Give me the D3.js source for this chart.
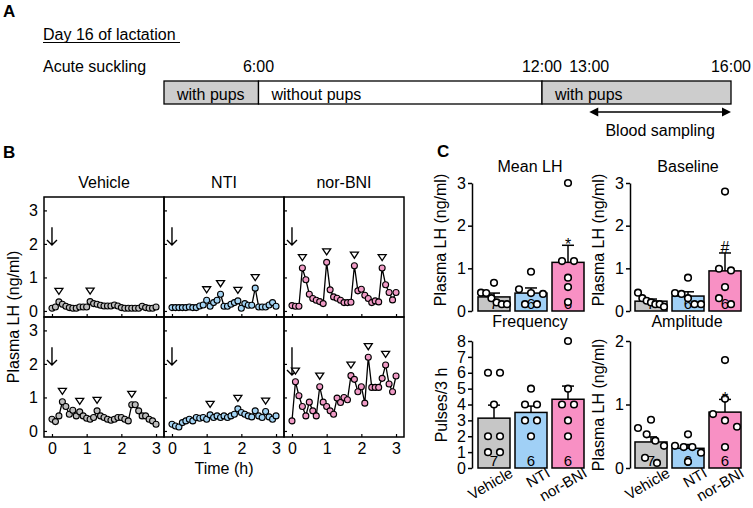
<!DOCTYPE html>
<html><head><meta charset="utf-8">
<script src="https://cdn.jsdelivr.net/npm/d3@7"></script>
<style>
body{margin:0;background:#fff;}
svg text{font-family:"Liberation Sans",Arial,sans-serif;fill:#000;}
</style></head>
<body><svg id="c" width="753" height="508"></svg>
<script>
// ---------------- DATA ----------------
const groups = ["Vehicle", "NTI", "nor-BNI"];

// Panel A schedule (hours of day)
const scheduleBounds = [4, 6, 12, 16];
const scheduleLabels = ["with pups", "without pups", "with pups"];
const scheduleWithPups = [true, false, true];
const scheduleTickHours = [6, 12, 13, 16];
const scheduleTickLabels = ["6:00", "12:00", "13:00", "16:00"];
const samplingWindow = [13, 16];

// Panel B: sampling times (h) and plasma LH (ng/ml), two representative rats per group
const sampleTimes = [0,0.1,0.2,0.3,0.4,0.5,0.6,0.7,0.8,0.9,1.0,1.1,1.2,1.3,1.4,1.5,1.6,1.7,1.8,1.9,2.0,2.1,2.2,2.3,2.4,2.5,2.6,2.7,2.8,2.9,3.0];
const lhVehicleTop = [0.08,0.12,0.27,0.2,0.14,0.1,0.08,0.08,0.12,0.12,0.12,0.28,0.22,0.2,0.17,0.15,0.15,0.15,0.18,0.15,0.1,0.08,0.08,0.08,0.08,0.08,0.14,0.1,0.08,0.08,0.12];
const lhNTITop     = [0.1,0.1,0.1,0.1,0.1,0.12,0.1,0.1,0.15,0.18,0.32,0.14,0.25,0.32,0.5,0.14,0.14,0.2,0.25,0.3,0.08,0.22,0.17,0.17,0.68,0.12,0.12,0.12,0.18,0.25,0.14];
const lhNorBNITop  = [0.16,0.14,0.14,1.28,0.93,0.5,0.37,0.32,0.28,0.22,1.45,0.63,0.42,0.38,0.32,0.25,0.25,0.26,1.35,0.6,0.65,0.47,0.37,0.25,0.3,0.27,1.28,0.78,0.55,0.33,0.55];
const lhVehicleBot = [0.35,0.28,0.45,0.87,0.73,0.5,0.62,0.45,0.57,0.45,0.38,0.35,0.4,0.6,0.45,0.4,0.35,0.32,0.35,0.4,0.4,0.35,0.3,0.78,0.78,0.6,0.45,0.45,0.35,0.3,0.2];
const lhNTIBot     = [0.2,0.15,0.12,0.25,0.3,0.35,0.3,0.4,0.38,0.4,0.35,0.48,0.4,0.45,0.4,0.45,0.4,0.45,0.5,0.66,0.55,0.5,0.45,0.42,0.6,0.45,0.4,0.58,0.42,0.35,0.45];
const lhNorBNIBot  = [0.3,1.47,1.05,0.73,0.45,0.86,0.6,0.45,1.32,0.86,0.73,0.6,0.5,0.98,0.85,1.0,0.93,1.65,1.54,1.17,1.32,0.83,2.2,1.3,1.3,1.3,1.57,1.97,1.4,1.17,1.64];
// indices of detected LH pulses (open triangles)
const pulsesVehicleTop = [2, 11];
const pulsesNTITop     = [10, 14, 19, 24];
const pulsesNorBNITop  = [3, 10, 18, 26];
const pulsesVehicleBot = [3, 8, 13, 23];
const pulsesNTIBot     = [11, 19, 27];
const pulsesNorBNIBot  = [1, 8, 17, 22, 27];
const yTicksB = [0, 1, 2, 3];
const xTicksB = [0, 1, 2, 3];

// Panel C: means, SEM, individual values
const nPerGroup = [7, 6, 6];
const meanLHMean = [0.33, 0.42, 1.14];
const meanLHSem  = [0.09, 0.12, 0.40];
const meanLHDots = [[0.66,0.43,0.42,0.3,0.2,0.16,0.16],[0.92,0.51,0.42,0.4,0.16,0.16],[3.0,1.17,1.17,0.78,0.56,0.21]];
const meanLHSig  = ["", "", "*"];
const baselineMean = [0.23, 0.35, 0.94];
const baselineSem  = [0.05, 0.10, 0.42];
const baselineDots = [[0.43,0.3,0.24,0.2,0.16,0.16,0.1],[0.78,0.42,0.4,0.3,0.16,0.16],[2.8,0.99,0.95,0.56,0.3,0.16]];
const baselineSig  = ["", "", "#"];
const freqMean = [3.14, 3.5, 4.33];
const freqSem  = [0.82, 0.40, 0.83];
const freqDots = [[6,6,4,2,2,1,1],[5,4,4,3,3,2],[8,5,4,4,3,2]];
const freqSig  = ["", "", ""];
const ampMean = [0.41, 0.31, 0.88];
const ampSem  = [0.08, 0.06, 0.20];
const ampDots = [[0.76,0.63,0.53,0.43,0.35,0.16,0.08],[0.53,0.35,0.33,0.33,0.24,0.1],[1.7,1.09,0.85,0.75,0.65,0.33]];
const ampSig  = ["", "", "*"];

// ---------------- DRAW ----------------
const svg = d3.select("#c");
const dotFill = ["#bdbdbd", "#a3d3f3", "#f09bc6"];
const barFill = ["#c6c6c6", "#a0d0f6", "#f890c4"];

function label(g, x, y, s, size, anchor, weight) {
  return g.append("text").attr("x", x).attr("y", y).attr("font-size", size)
    .attr("text-anchor", anchor || "start").attr("font-weight", weight || "normal").text(s);
}

// ===== Panel A =====
label(svg, 3, 17, "A", 17, "start", "bold");
label(svg, 43, 40, "Day 16 of lactation", 16);
svg.append("line").attr("x1", 43).attr("x2", 180).attr("y1", 42.5).attr("y2", 42.5).attr("stroke", "#000").attr("stroke-width", 1.1);
label(svg, 43, 72, "Acute suckling", 16);
const xA = d3.scaleLinear().domain([4, 16]).range([164, 731]);
scheduleLabels.forEach((s, i) => {
  const x0 = xA(scheduleBounds[i]), x1 = xA(scheduleBounds[i + 1]);
  svg.append("rect").attr("x", x0).attr("y", 81).attr("width", x1 - x0).attr("height", 23)
    .attr("fill", scheduleWithPups[i] ? "#cdcdcd" : "#fff").attr("stroke", "#000").attr("stroke-width", 1.3);
  label(svg, x0 + 13, 100, s, 16);
});
scheduleTickHours.forEach((h, i) => label(svg, xA(h), 72, scheduleTickLabels[i], 16, "middle"));
{
  const ax0 = xA(samplingWindow[0]), ax1 = xA(samplingWindow[1]), ay = 112;
  svg.append("line").attr("x1", ax0 + 4).attr("x2", ax1 - 4).attr("y1", ay).attr("y2", ay).attr("stroke", "#000").attr("stroke-width", 1.5);
  svg.append("path").attr("d", `M${ax0},${ay}l9,-4.5v9z`).attr("fill", "#000");
  svg.append("path").attr("d", `M${ax1},${ay}l-9,-4.5v9z`).attr("fill", "#000");
  label(svg, (ax0 + ax1) / 2, 136, "Blood sampling", 16, "middle");
}

// ===== Panel B =====
label(svg, 3, 158, "B", 17, "start", "bold");
const rowsB = [[lhVehicleTop, lhNTITop, lhNorBNITop], [lhVehicleBot, lhNTIBot, lhNorBNIBot]];
const pulsesB = [[pulsesVehicleTop, pulsesNTITop, pulsesNorBNITop], [pulsesVehicleBot, pulsesNTIBot, pulsesNorBNIBot]];
const PW = 120, PH = 120, BL = 44, BT = 197;
const xB = d3.scaleLinear().domain([-0.23, 3.23]).range([0, PW]);
const yB = d3.scaleLinear().domain([-0.18, 3.4]).range([PH, 0]);
groups.forEach((gname, c) => label(svg, BL + c * PW + PW / 2, 188, gname, 16, "middle"));
rowsB.forEach((row, r) => {
  row.forEach((vals, c) => {
    const g = svg.append("g").attr("transform", `translate(${BL + c * PW},${BT + r * PH})`);
    const ya = g.append("g").call(d3.axisLeft(yB).tickValues(yTicksB).tickSize(-3).tickSizeOuter(0).tickPadding(6)
      .tickFormat(c === 0 ? d3.format("d") : () => ""));
    ya.select(".domain").remove();
    ya.selectAll("text").attr("font-size", 16).attr("font-family", null);
    ya.selectAll("line").attr("stroke-width", 1.2);
    const xa = g.append("g").attr("transform", `translate(0,${PH})`)
      .call(d3.axisBottom(xB).tickValues(xTicksB).tickSize(-3).tickSizeOuter(0).tickPadding(6)
      .tickFormat(r === 1 ? d3.format("d") : () => ""));
    xa.select(".domain").remove();
    xa.selectAll("text").attr("font-size", 16).attr("font-family", null);
    xa.selectAll("line").attr("stroke-width", 1.2);
    g.append("rect").attr("width", PW).attr("height", PH).attr("fill", "none").attr("stroke", "#000").attr("stroke-width", 1.5);
    // arrow at time 0
    const arrowBottom = (r === 1 && c === 2) ? 1.67 : 1.97;
    const axp = xB(0), at = yB(2.5), ab = yB(arrowBottom);
    g.append("path").attr("d", `M${axp},${at}V${ab}M${axp - 5},${ab - 5}L${axp},${ab}L${axp + 5},${ab - 5}`)
      .attr("fill", "none").attr("stroke", "#000").attr("stroke-width", 1.4);
    const line = d3.line().x((d, i) => xB(sampleTimes[i])).y(d => yB(d));
    g.append("path").datum(vals).attr("d", line).attr("fill", "none").attr("stroke", "#000").attr("stroke-width", 1.3);
    g.selectAll("circle.pt").data(vals).join("circle").attr("class", "pt")
      .attr("cx", (d, i) => xB(sampleTimes[i])).attr("cy", d => yB(d)).attr("r", 3)
      .attr("fill", dotFill[c]).attr("stroke", "#000").attr("stroke-width", 1.1);
    g.selectAll("path.tri").data(pulsesB[r][c]).join("path").attr("class", "tri")
      .attr("transform", i => `translate(${xB(sampleTimes[i])},${yB(vals[i]) - 10.5})`)
      .attr("d", "M-4,-3L4,-3L0,3Z").attr("fill", "#fff").attr("stroke", "#000").attr("stroke-width", 1.3);
  });
});
label(svg, BL + 1.5 * PW, 474, "Time (h)", 16, "middle");
svg.append("text").attr("transform", `translate(18.5,${BT + PH})rotate(-90)`).attr("text-anchor", "middle")
  .attr("font-size", 16).text("Plasma LH (ng/ml)");

// ===== Panel C =====
label(svg, 437, 157, "C", 17, "start", "bold");

function swarm(values, y, cx) {
  const pts = values.map(v => ({ v, y: y(v) })).sort((a, b) => a.y - b.y);
  const clusters = []; let cur = [];
  pts.forEach(p => {
    if (cur.length && p.y - cur[cur.length - 1].y > 7.5) { clusters.push(cur); cur = []; }
    cur.push(p);
  });
  if (cur.length) clusters.push(cur);
  clusters.forEach(cl => {
    const k = cl.length, gap = k > 1 ? Math.min(12, 26 / (k - 1)) : 0;
    cl.forEach((p, i) => p.x = cx + (i - (k - 1) / 2) * gap);
  });
  return pts;
}

function barPanel(o) {
  const y = d3.scaleLinear().domain(o.domain).range(o.yRange);
  const x = d3.scaleBand().domain(groups).range(o.xRange).paddingInner(5 / 37).paddingOuter(0);
  const g = svg.append("g");
  const ax = g.append("g").attr("transform", `translate(${o.axisX},0)`)
    .call(d3.axisLeft(y).tickValues(o.ticks).tickFormat(d3.format("d")).tickSize(4).tickSizeOuter(0).tickPadding(2));
  ax.selectAll("text").attr("font-size", 16).attr("font-family", null);
  ax.selectAll("line,path").attr("stroke-width", 1.5);
  groups.forEach((gn, i) => {
    const bx = x(gn), bw = x.bandwidth(), cx = bx + bw / 2;
    const top = o.mean[i] + o.sem[i];
    g.append("line").attr("x1", cx).attr("x2", cx).attr("y1", y(o.mean[i])).attr("y2", y(top)).attr("stroke", "#000").attr("stroke-width", 1.5);
    g.append("line").attr("x1", cx - 6).attr("x2", cx + 6).attr("y1", y(top)).attr("y2", y(top)).attr("stroke", "#000").attr("stroke-width", 1.5);
    g.append("rect").attr("x", bx).attr("y", y(o.mean[i])).attr("width", bw).attr("height", y(0) - y(o.mean[i]))
      .attr("fill", barFill[i]).attr("stroke", "#000").attr("stroke-width", 1.5);
    label(g, cx, y(0) - 2, String(nPerGroup[i]), 15, "middle");
    g.selectAll(null).data(swarm(o.dots[i], y, cx)).join("circle")
      .attr("cx", d => d.x).attr("cy", d => d.y).attr("r", 3.3)
      .attr("fill", "#fff").attr("stroke", "#000").attr("stroke-width", 1.6);
    if (o.sig[i]) label(g, cx, y(top) + (o.sig[i] === "#" ? 0 : 5), o.sig[i], 16, "middle");
    if (o.xLabels) g.append("text").attr("transform", `translate(${cx + 20},476)rotate(-30)`)
      .attr("text-anchor", "end").attr("font-size", 15).text(gn);
  });
  label(svg, o.titleX, o.titleY, o.title, 16, "middle");
  svg.append("text").attr("transform", `translate(${o.ylabX},${o.ylabY})rotate(-90)`).attr("text-anchor", "middle")
    .attr("font-size", 16).text(o.ylab);
}

barPanel({ axisX: 472, xRange: [478, 584], domain: [0, 3], yRange: [311, 183], ticks: [0, 1, 2, 3],
  mean: meanLHMean, sem: meanLHSem, dots: meanLHDots, sig: meanLHSig, xLabels: false,
  title: "Mean LH", titleX: 530, titleY: 172, ylab: "Plasma LH (ng/ml)", ylabX: 446, ylabY: 240 });
barPanel({ axisX: 630, xRange: [635, 741], domain: [0, 3], yRange: [311, 183], ticks: [0, 1, 2, 3],
  mean: baselineMean, sem: baselineSem, dots: baselineDots, sig: baselineSig, xLabels: false,
  title: "Baseline", titleX: 688, titleY: 172, ylab: "Plasma LH (ng/ml)", ylabX: 604, ylabY: 240 });
barPanel({ axisX: 472, xRange: [478, 584], domain: [0, 8], yRange: [468, 341], ticks: [0, 1, 2, 3, 4, 5, 6, 7, 8],
  mean: freqMean, sem: freqSem, dots: freqDots, sig: freqSig, xLabels: true,
  title: "Frequency", titleX: 530, titleY: 327, ylab: "Pulses/3 h", ylabX: 447, ylabY: 405 });
barPanel({ axisX: 630, xRange: [635, 741], domain: [0, 2], yRange: [468, 341], ticks: [0, 1, 2],
  mean: ampMean, sem: ampSem, dots: ampDots, sig: ampSig, xLabels: true,
  title: "Amplitude", titleX: 687, titleY: 327, ylab: "Plasma LH (ng/ml)", ylabX: 604, ylabY: 405 });
</script>
</body></html>
